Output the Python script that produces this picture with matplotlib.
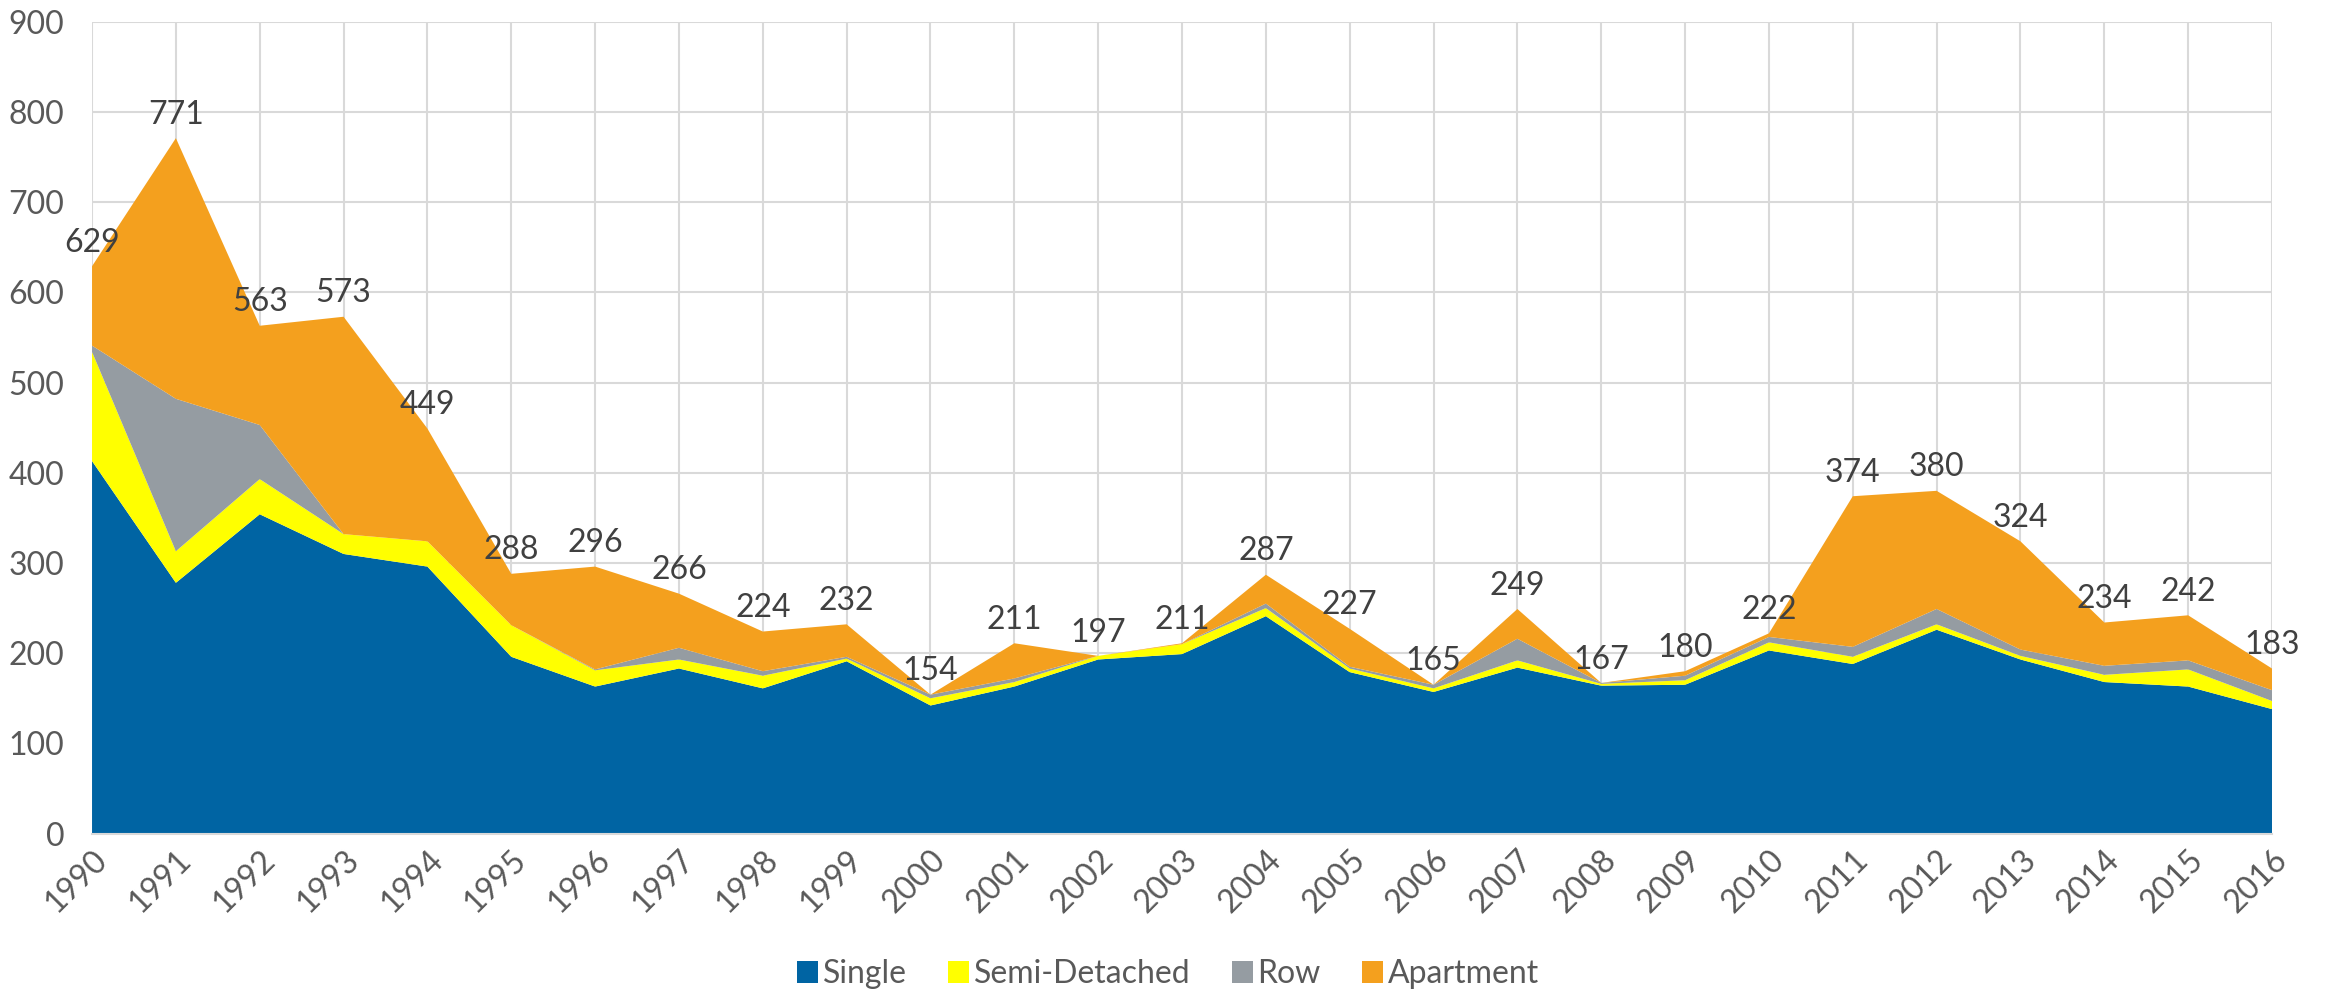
import numpy as np
import matplotlib.pyplot as plt
from matplotlib.patches import Patch

plt.rcParams['font.family'] = ['Lato', 'DejaVu Sans']

years = list(range(1990, 2017))

single = [413, 278, 354, 310, 296, 196, 163, 183, 161, 191, 142, 163, 193, 199,
          241, 179, 157, 184, 164, 165, 203, 188, 226, 193, 168, 163, 138]
semi = [121, 35, 39, 22, 28, 35, 18, 10, 14, 3, 8, 5, 4, 11,
        9, 4, 4, 8, 2, 5, 9, 8, 6, 4, 8, 19, 9]
row = [7, 169, 60, 0, 0, 0, 1, 13, 5, 2, 4, 4, 0, 0,
       5, 2, 4, 24, 1, 5, 6, 11, 17, 7, 10, 10, 12]
totals = [629, 771, 563, 573, 449, 288, 296, 266, 224, 232, 154, 211, 197, 211,
          287, 227, 165, 249, 167, 180, 222, 374, 380, 324, 234, 242, 183]
apartment = [t - s - d - r for t, s, d, r in zip(totals, single, semi, row)]

labels = ['Single', 'Semi-Detached', 'Row', 'Apartment']
colors = ['#0064A3', '#FFFF00', '#959CA2', '#F4A01E']

fig = plt.figure(figsize=(23.36, 9.9), dpi=100)
ax = fig.add_axes([0.0394, 0.158, 0.9332, 0.820])

ax.stackplot(years, single, semi, row, apartment, colors=colors, linewidth=0, zorder=2)

ax.set_xlim(1990, 2016)
ax.set_ylim(0, 900)
ax.set_yticks(range(0, 901, 100))
ax.set_xticks(years)
ax.set_xticklabels([str(y) for y in years], rotation=45, ha='right',
                   rotation_mode='anchor')
ax.grid(True, color='#D9D9D9', linewidth=1.5, zorder=0)
ax.set_axisbelow(True)
for side in ['top', 'right', 'left']:
    ax.spines[side].set_visible(False)
ax.spines['bottom'].set_color('#D9D9D9')
ax.spines['bottom'].set_linewidth(1.5)
ax.tick_params(axis='both', length=0, labelsize=23, labelcolor='#595959')
ax.tick_params(axis='y', pad=20)
ax.tick_params(axis='x', pad=8)

# total labels above each point
for x, t in zip(years, totals):
    ax.annotate(str(t), (x, t), xytext=(0, 6), textcoords='offset points',
                ha='center', va='bottom', fontsize=23, color='#404040',
                clip_on=False, zorder=5)

handles = [Patch(facecolor=c, edgecolor='none') for c in colors]
fig.legend(handles, labels, loc='center', bbox_to_anchor=(0.5, 0.016), ncol=4,
           frameon=False, fontsize=23, handlelength=0.65, handleheight=0.65,
           handletextpad=0.15, columnspacing=1.3, labelcolor='#595959')

fig.savefig('out.png', dpi=100)
